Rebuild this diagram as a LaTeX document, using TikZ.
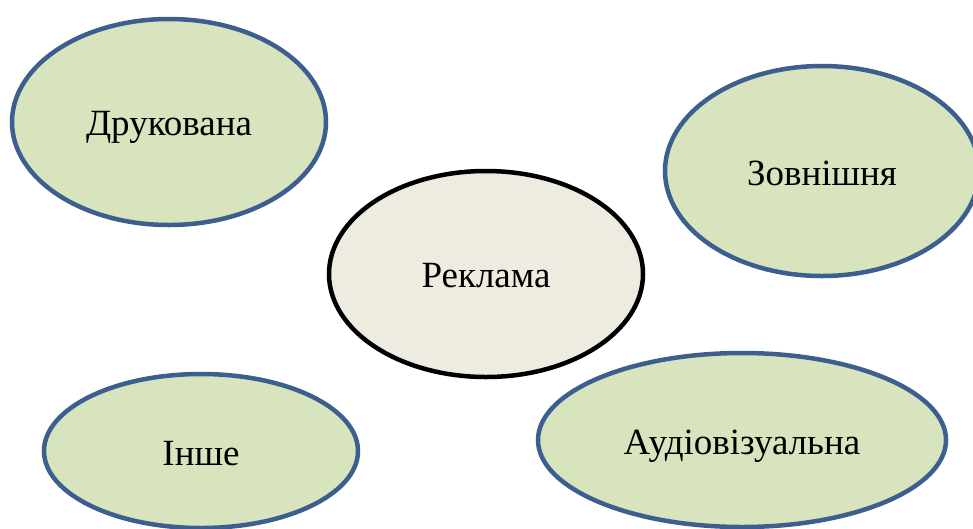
\documentclass[tikz,border=0pt]{standalone}
\usepackage{fontspec}
\setmainfont{Liberation Serif}
\usetikzlibrary{shapes.geometric}
\definecolor{leaf}{HTML}{D7E4BD}
\definecolor{rim}{HTML}{3C5F8F}
\definecolor{core}{HTML}{EEECE1}
\tikzset{
  oval/.style={ellipse, draw=rim, fill=leaf, line width=4.5pt, inner sep=0pt},
  hub/.style={oval, draw=black, fill=core},
  word/.style={inner sep=0pt, font=\fontsize{37}{44}\selectfont}
}
\begin{document}
\begin{tikzpicture}[x=1pt,y=-1pt]
\useasboundingbox (0,0) rectangle (973,528);
\begin{scope}
\clip (0,0) rectangle (973,528);
\node[oval, minimum width=314pt, minimum height=206pt] (druk) at (169,122) {};
\node[oval, minimum width=314pt, minimum height=210pt] (zovn) at (822,171) {};
\node[hub, minimum width=314pt, minimum height=206pt] (rekl) at (486,274) {};
\node[oval, minimum width=314pt, minimum height=154pt] (inshe) at (201,451) {};
\node[oval, minimum width=408pt, minimum height=174pt] (audio) at (742,440) {};
\node[word] (drukT) at ([yshift=-5pt]druk.center) {Друкована};
\node[word] (zovnT) at ([yshift=-2pt]zovn.center) {Зовнішня};
\node[word] (reklT) at ([yshift=-2pt]rekl.center) {Реклама};
\node[word] (insheT) at ([yshift=-3pt]inshe.center) {Інше};
\node[word] (audioT) at ([yshift=-6pt]audio.center) {Аудіовізуальна};
\end{scope}
\end{tikzpicture}
\end{document}
